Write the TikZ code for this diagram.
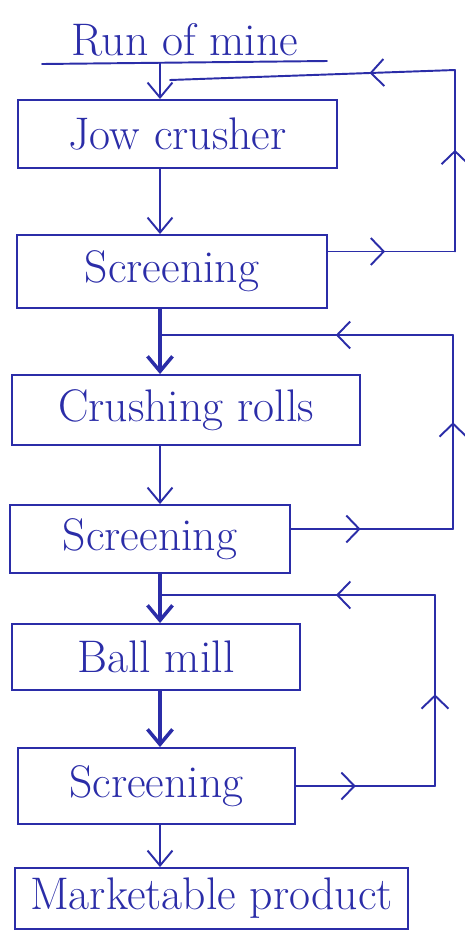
\documentclass[tikz,border=0pt]{standalone}
\usetikzlibrary{arrows.meta,positioning,calc,decorations.markings}
\definecolor{inkblue}{HTML}{2B2DA8}

\begin{document}
\begin{tikzpicture}[x=0.02cm,y=-0.02cm,>={Straight Barb[length=3mm,width=5mm]},line width=1.1pt,line cap=round]
    \tikzset{box/.style={draw=inkblue,text=inkblue,inner sep=0pt,font=\fontsize{26}{30}\selectfont},
      flow/.style={->,inkblue},
      back/.style={inkblue,postaction={decorate},decoration={markings,mark=at position #1 with {\arrow{Straight Barb[length=2.6mm,width=5.4mm]}}}}}
    \useasboundingbox (0,0) rectangle (465,931);
    \node[text=inkblue,font=\fontsize{26}{30}\selectfont] (mine) at (185,40) {Run of mine};
    \node[box,minimum width=6.38cm,minimum height=1.36cm] (jaw) at (177.5,134) {Jow crusher};
    \node[box,minimum width=6.2cm,minimum height=1.46cm] (scr1) at (172,271.5) {Screening};
    \node[box,minimum width=6.96cm,minimum height=1.4cm] (rolls) at (186,410) {Crushing rolls};
    \node[box,minimum width=5.6cm,minimum height=1.36cm] (scr2) at (150,539) {Screening};
    \node[box,minimum width=5.76cm,minimum height=1.32cm] (ball) at (156,657) {Ball mill};
    \node[box,minimum width=5.54cm,minimum height=1.52cm] (scr3) at (156.5,786) {Screening};
    \node[box,minimum width=7.86cm,minimum height=1.22cm] (product) at (211.5,898.5) {Marketable product};
    \coordinate (ulL) at (42,64);
    \coordinate (ulR) at (327,61);
    \coordinate (spine) at (160,63);
    \draw[inkblue] (ulL) -- (ulR);
    % main line
    \draw[flow] (spine) -- (spine |- jaw.north);
    \draw[flow] (jaw.south -| spine) -- (scr1.north -| spine);
    \draw[flow,line width=2pt] (scr1.south -| spine) -- (rolls.north -| spine);
    \draw[flow] (rolls.south -| spine) -- (scr2.north -| spine);
    \draw[flow,line width=2pt] (scr2.south -| spine) -- (ball.north -| spine);
    \draw[flow,line width=2pt] (ball.south -| spine) -- (scr3.north -| spine);
    \draw[flow] (scr3.south -| spine) -- (product.north -| spine);
    % oversize back to the crushers
    \coordinate (out1) at ($(scr1.east)+(0,-20)$);
    \coordinate (rail1) at (455,70);
    \coordinate (join1) at (170,80);
    \draw[back=0.45] (out1) -- (out1 -| rail1);
    \draw[back=0.56] (out1 -| rail1) -- (rail1);
    \draw[back=0.3] (rail1) -- (join1);
    \coordinate (out2) at ($(scr2.east)+(0,-10)$);
    \coordinate (rail2) at (453,335);
    \coordinate (join2) at (160,335);
    \draw[back=0.43] (out2) -- (out2 -| rail2);
    \draw[back=0.55] (out2 -| rail2) -- (rail2);
    \draw[back=0.4] (rail2) -- (join2);
    \coordinate (rail3) at (435,595);
    \coordinate (join3) at (160,595);
    \draw[back=0.43] (scr3.east) -- (scr3.east -| rail3);
    \draw[back=0.48] (scr3.east -| rail3) -- (rail3);
    \draw[back=0.36] (rail3) -- (join3);
  \end{tikzpicture}
\end{document}
